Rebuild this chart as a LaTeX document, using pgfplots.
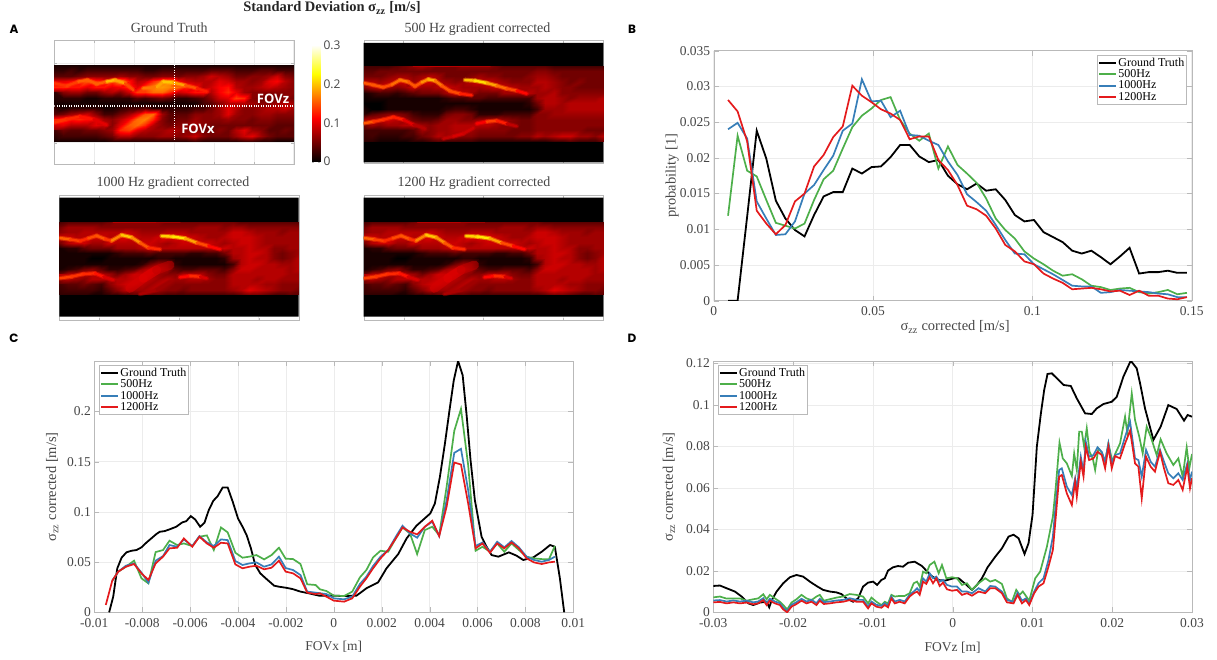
\documentclass[border=0pt]{standalone}
\usepackage{fontspec}
\usepackage{pgfplots}
\usepackage{pgfplotstable}
\pgfplotsset{compat=1.18}
\setmainfont{Liberation Serif}
\newfontfamily\sansf{Open Sans}
\newfontfamily\labf{Poppins}
\definecolor{cGT}{RGB}{0,0,0}
\definecolor{c500}{RGB}{77,175,74}
\definecolor{c1000}{RGB}{55,126,184}
\definecolor{c1200}{RGB}{228,26,28}
\definecolor{frameg}{RGB}{185,185,185}
\definecolor{gridg}{RGB}{236,236,236}
\definecolor{txtg}{RGB}{70,70,70}
\pgfplotsset{
  colormap={hotm}{rgb255(0cm)=(0,0,0); rgb255(3cm)=(255,0,0); rgb255(6cm)=(255,255,0); rgb255(8cm)=(255,255,255)},
  lineaxis/.style={scale only axis, scaled ticks=false, axis line style={frameg}, tick style={frameg}, major tick length=5pt,
    tick align=inside, grid=major, grid style={gridg, line width=0.5pt},
    tick label style={font=\fontsize{13.5}{13.5}\selectfont, text=txtg},
    label style={font=\fontsize{14.5}{14.5}\selectfont, text=txtg},
    xticklabel style={yshift=-2.5pt},
    legend cell align=left,
    legend image post style={line width=2pt},
    legend style={font=\fontsize{12}{12}\selectfont, draw=frameg, inner sep=1pt, row sep=-0.4pt, text=black,
       nodes={inner sep=1.2pt}}},
  imgaxis/.style={scale only axis, axis line style={frameg}, tick style={frameg}, major tick length=2.5pt,
    tick align=inside, xmin=0, xmax=29, y dir=reverse, xticklabels={}, yticklabels={}, grid=major,
    grid style={gridg, line width=0.5pt}, colormap name=hotm, point meta min=0, point meta max=30,
    title style={font=\fontsize{14}{14}\selectfont, text=txtg}},
  heat/.style={surf, shader=interp, mesh/cols=30, point meta=explicit},
  ridge/.style={mesh, point meta=explicit, line width=2.4pt, line cap=round, line join=round},
  ridgeU/.style={mesh, point meta=explicit, line width=4.5pt, line cap=round, line join=round, opacity=0.45},
  srcGT/.style={line width=1.8pt, color=cGT},
  src500/.style={line width=1.7pt, color=c500},
  src1000/.style={line width=1.7pt, color=c1000},
  src1200/.style={line width=1.7pt, color=c1200}
}
\newcommand{\ridgepair}[1]{%
  \addplot[ridgeU] table[x=c,y=r,meta=m]{#1};
  \addplot[ridge] table[x=c,y=r,meta=m]{#1};}
% standard deviation maps, values in 0.01 m/s, 30 columns, 15 rows
\pgfplotstableread[row sep=crcr,header=false]{
1\\1\\1\\1\\1\\1\\1\\1\\1\\1\\1\\1\\1\\1\\1\\1\\1\\1\\1\\1\\1\\1\\1\\1\\1\\1\\1\\1\\1\\1\\
2\\2\\3\\2\\3\\3\\3\\3\\3\\3\\3\\2\\2\\3\\3\\3\\3\\3\\3\\4\\4\\4\\3\\3\\3\\4\\4\\3\\3\\3\\
4\\4\\4\\5\\6\\6\\6\\6\\7\\6\\6\\5\\5\\6\\6\\5\\6\\6\\7\\9\\8\\7\\5\\5\\6\\6\\7\\9\\6\\5\\
10\\10\\11\\12\\15\\13\\11\\14\\17\\12\\8\\9\\13\\16\\17\\11\\9\\8\\8\\8\\10\\9\\7\\7\\6\\7\\10\\11\\8\\6\\
13\\13\\12\\12\\10\\12\\12\\10\\11\\13\\10\\14\\17\\18\\17\\16\\13\\11\\8\\9\\11\\12\\8\\7\\7\\8\\9\\8\\7\\6\\
5\\6\\7\\7\\5\\5\\7\\8\\6\\9\\14\\14\\16\\16\\13\\9\\10\\12\\12\\8\\11\\13\\10\\7\\6\\6\\6\\6\\6\\6\\
2\\2\\2\\2\\1\\1\\2\\2\\2\\2\\4\\3\\4\\5\\4\\2\\2\\3\\4\\6\\9\\10\\14\\13\\6\\5\\5\\5\\6\\5\\
1\\1\\1\\1\\1\\1\\1\\1\\1\\1\\1\\1\\1\\1\\1\\1\\1\\1\\3\\4\\6\\8\\8\\8\\7\\6\\6\\7\\8\\7\\
1\\1\\2\\2\\2\\2\\1\\1\\2\\3\\3\\4\\2\\2\\2\\2\\2\\3\\3\\5\\7\\10\\8\\6\\6\\7\\8\\8\\9\\7\\
4\\5\\7\\8\\9\\6\\3\\3\\5\\7\\10\\15\\16\\7\\4\\4\\4\\6\\6\\6\\7\\10\\7\\6\\6\\7\\7\\6\\6\\6\\
12\\13\\12\\13\\12\\10\\7\\6\\8\\11\\16\\17\\13\\6\\4\\5\\5\\7\\6\\6\\6\\7\\6\\6\\5\\6\\6\\5\\5\\5\\
13\\10\\8\\8\\8\\10\\9\\6\\10\\15\\16\\13\\8\\6\\5\\6\\6\\7\\6\\5\\5\\5\\5\\5\\5\\5\\5\\4\\4\\4\\
6\\5\\4\\4\\5\\5\\6\\7\\13\\14\\10\\8\\7\\7\\8\\7\\6\\6\\5\\5\\6\\5\\8\\10\\7\\6\\4\\4\\5\\4\\
3\\3\\3\\3\\3\\3\\4\\5\\8\\8\\6\\6\\6\\7\\7\\6\\7\\9\\6\\5\\5\\5\\7\\9\\10\\7\\5\\4\\4\\4\\
1\\1\\1\\1\\1\\1\\1\\2\\2\\2\\2\\2\\2\\2\\2\\2\\2\\3\\2\\2\\2\\2\\2\\3\\3\\2\\2\\1\\1\\1\\
}\matGT
\pgfplotstableread[row sep=crcr,header=false]{
3\\3\\3\\3\\4\\5\\6\\7\\6\\5\\5\\5\\6\\6\\6\\6\\5\\4\\4\\4\\4\\4\\4\\3\\3\\3\\3\\3\\3\\3\\
4\\4\\5\\5\\5\\5\\5\\5\\5\\5\\5\\5\\5\\5\\5\\5\\5\\5\\5\\5\\5\\6\\6\\5\\5\\5\\5\\5\\5\\5\\
5\\5\\5\\6\\7\\7\\6\\7\\8\\7\\5\\5\\5\\6\\7\\6\\6\\5\\5\\5\\6\\7\\7\\6\\5\\5\\5\\5\\5\\5\\
8\\8\\7\\8\\9\\9\\7\\9\\9\\8\\7\\6\\7\\8\\9\\9\\8\\7\\6\\6\\6\\8\\8\\7\\6\\5\\6\\5\\5\\5\\
6\\8\\9\\7\\6\\7\\9\\7\\7\\8\\9\\8\\7\\7\\7\\8\\9\\9\\8\\7\\7\\7\\8\\7\\6\\6\\5\\5\\5\\5\\
1\\2\\3\\3\\2\\3\\4\\5\\5\\5\\7\\9\\8\\7\\5\\5\\5\\7\\7\\7\\8\\7\\7\\8\\6\\6\\6\\6\\6\\6\\
1\\1\\1\\1\\1\\1\\1\\1\\1\\1\\2\\3\\3\\4\\4\\3\\3\\3\\3\\3\\3\\7\\8\\8\\7\\6\\7\\7\\7\\8\\
0\\0\\0\\1\\1\\1\\1\\1\\1\\1\\1\\1\\1\\1\\1\\1\\1\\1\\1\\1\\2\\5\\8\\8\\7\\8\\8\\8\\8\\8\\
0\\0\\0\\1\\1\\1\\1\\1\\1\\1\\2\\3\\3\\2\\1\\1\\1\\1\\1\\1\\1\\3\\7\\7\\7\\8\\8\\8\\8\\8\\
2\\4\\5\\6\\6\\5\\3\\2\\2\\2\\5\\6\\6\\5\\2\\2\\2\\3\\3\\3\\3\\6\\6\\7\\7\\7\\7\\7\\7\\7\\
8\\8\\8\\9\\8\\7\\5\\4\\4\\5\\7\\7\\6\\6\\7\\8\\8\\7\\6\\5\\5\\6\\6\\6\\6\\6\\6\\6\\6\\6\\
7\\7\\6\\7\\7\\8\\8\\7\\6\\7\\7\\8\\8\\8\\8\\8\\7\\6\\6\\5\\5\\6\\6\\6\\6\\6\\6\\6\\6\\6\\
3\\3\\3\\3\\3\\3\\4\\7\\6\\7\\7\\8\\8\\7\\6\\6\\6\\6\\5\\5\\5\\6\\6\\6\\6\\6\\6\\5\\5\\5\\
3\\3\\2\\2\\2\\3\\3\\5\\6\\8\\7\\7\\6\\6\\5\\5\\5\\5\\5\\6\\6\\8\\7\\8\\9\\9\\7\\7\\6\\8\\
2\\2\\1\\1\\1\\1\\2\\2\\3\\4\\3\\3\\3\\3\\2\\2\\2\\2\\2\\2\\2\\2\\2\\3\\3\\4\\3\\3\\3\\5\\
}\matFive
\pgfplotstableread[row sep=crcr,header=false]{
3\\4\\4\\4\\4\\4\\5\\6\\6\\6\\6\\6\\6\\5\\5\\5\\5\\5\\5\\5\\5\\5\\4\\4\\4\\4\\4\\4\\4\\4\\
5\\7\\7\\7\\7\\6\\6\\6\\6\\6\\6\\6\\6\\6\\6\\6\\6\\7\\7\\7\\6\\7\\7\\6\\6\\6\\6\\6\\6\\6\\
6\\7\\7\\8\\8\\8\\8\\8\\9\\8\\7\\7\\7\\8\\8\\8\\7\\7\\7\\7\\7\\9\\9\\8\\7\\7\\7\\6\\7\\7\\
9\\9\\8\\8\\9\\9\\8\\9\\10\\9\\8\\8\\9\\10\\10\\10\\9\\8\\7\\7\\8\\9\\9\\9\\8\\7\\7\\7\\7\\7\\
5\\8\\9\\9\\7\\7\\9\\8\\8\\8\\9\\9\\8\\7\\8\\9\\9\\9\\9\\8\\7\\8\\9\\9\\8\\7\\7\\7\\7\\7\\
1\\2\\2\\4\\5\\5\\5\\7\\7\\7\\8\\9\\8\\8\\8\\8\\8\\8\\8\\8\\9\\8\\8\\9\\8\\8\\6\\6\\7\\7\\
1\\1\\1\\1\\1\\1\\1\\2\\3\\3\\3\\4\\3\\3\\3\\3\\2\\2\\3\\3\\5\\8\\8\\9\\9\\8\\6\\5\\6\\7\\
1\\1\\1\\1\\0\\0\\1\\1\\1\\1\\1\\1\\2\\2\\1\\1\\1\\1\\1\\1\\2\\7\\8\\9\\8\\8\\6\\5\\6\\8\\
1\\1\\1\\1\\1\\1\\1\\1\\1\\1\\2\\5\\7\\6\\2\\1\\1\\1\\1\\1\\1\\3\\8\\9\\9\\8\\8\\7\\7\\8\\
1\\2\\3\\5\\6\\4\\2\\2\\3\\4\\7\\9\\9\\7\\4\\3\\3\\4\\4\\4\\3\\6\\9\\9\\8\\8\\8\\8\\7\\8\\
5\\8\\8\\8\\8\\8\\7\\5\\7\\9\\9\\9\\7\\6\\6\\8\\8\\8\\6\\5\\5\\8\\8\\8\\8\\8\\8\\8\\7\\7\\
8\\8\\7\\6\\8\\8\\8\\8\\8\\9\\9\\8\\7\\8\\7\\7\\8\\8\\7\\6\\6\\8\\8\\8\\7\\8\\8\\7\\7\\7\\
4\\4\\4\\5\\4\\3\\6\\8\\9\\9\\8\\7\\8\\7\\6\\6\\6\\6\\6\\6\\6\\8\\8\\8\\8\\7\\7\\6\\6\\6\\
3\\3\\3\\3\\3\\2\\4\\6\\8\\7\\7\\8\\7\\6\\6\\5\\6\\6\\6\\6\\6\\7\\8\\10\\9\\8\\7\\6\\6\\5\\
2\\2\\2\\2\\1\\1\\2\\2\\3\\4\\5\\4\\4\\3\\3\\3\\3\\3\\3\\3\\3\\3\\4\\5\\5\\4\\3\\3\\4\\4\\
}\matThou
% ridges of the bright shear layers: column, row, value in 0.01 m/s
\pgfplotstableread{
c r m
0 3.37 13
1.49 3.87 14
2.91 3.07 14
4 2.76 17
5.13 3.5 14
6.34 3.07 17
7.35 2.76 22
8.56 3.37 15
9.57 4.6 14
}\rGTa
\pgfplotstableread{
c r m
10.78 4.29 15
12.4 4.11 18
13.21 3.07 19
14.42 3.25 21
15.83 3.74 16
17.25 4.29 14
18.46 4.91 11
}\rGTb
\pgfplotstableread{
c r m
0 10.61 14
1.49 10 13
3.11 9.51 13
4.73 10 11
6.34 11.04 9
}\rGTc
\pgfplotstableread{
c r m
0 3.21 15
1.17 3.58 15
2.38 4.01 15
3.39 3.52 14
4.4 2.65 18
5.4 3.02 15
6.21 3.83 15
7.02 3.09 15
7.82 2.53 20
8.63 2.78 18
9.44 3.7 15
10.44 4.69 15
11.65 5.19 14
13.06 5.49 11
}\rFa
\pgfplotstableread{
c r m
12.26 2.65 17
13.47 2.78 22
14.88 3.21 20
16.09 3.7 17
17.3 4.26 15
18.51 4.63 14
19.72 5.19 9
}\rFb
\pgfplotstableread{
c r m
0 10.68 15
1.17 10.37 15
2.38 10 12
3.59 9.51 14
4.8 10 11
6.01 10.93 9
7.42 11.67 7
}\rFc
\pgfplotstableread{
c r m
13.67 10.74 9
14.88 10.37 13
16.09 10.19 15
17.3 10.74 10
18.51 11.23 7
}\rFd
\pgfplotstableread{
c r m
9.64 13.52 7
10.85 13.09 10
12.06 12.59 9
13.27 11.54 9
}\rFe
\pgfplotstableread{
c r m
6.01 .12 7
8.02 .12 9
10.44 .12 8
12.86 .12 8
15.28 .12 7
}\rFf
\pgfplotstableread{
c r m
0 3.12 16
1.29 3.38 15
2.5 3.69 13
3.51 3.18 13
4.52 2.68 16
5.53 3.31 14
6.34 3.63 13
7.55 2.55 21
8.76 2.99 19
9.77 4.01 16
10.78 4.97 14
12.2 5.29 12
}\rTa
\pgfplotstableread{
c r m
12.4 2.74 19
13.81 2.87 22
15.23 3.18 21
16.64 4.01 16
18.05 4.65 13
19.47 5.29 10
}\rTb
\pgfplotstableread{
c r m
0 10.83 14
1.49 10.51 14
2.91 10 13
4.32 9.87 13
5.33 10.51 11
6.54 11.15 8
}\rTc
\pgfplotstableread{
c r m
14.62 10.64 9
15.83 10.38 14
17.04 10.51 12
17.85 10.83 7
}\rTd
\pgfplotstableread{
c r m
8.56 12.74 9
10.18 10.83 10
11.79 9.24 10
13.41 8.28 7
}\rTe
\pgfplotstableread{
c r m
9.77 13.82 8
11.79 13.06 7
13.41 11.46 7
}\rTf
\pgfplotstableread{
c r m
6.54 .1 7
9.37 .1 9
11.79 .1 7
14.62 .1 7
}\rTg
% panel B
\pgfplotstableread{
x gt g b r
.0045 0 .0119 .024 .0281
.0075 0 .0231 .0249 .0265
.0105 .0118 .0182 .0227 .0223
.0135 .0238 .0174 .0139 .0126
.0165 .0199 .0141 .0115 .0108
.0195 .014 .0109 .0092 .0093
.0225 .0115 .0105 .0093 .0106
.0255 .0099 .0101 .0111 .0139
.0285 .009 .0108 .015 .015
.0315 .012 .0141 .0162 .0188
.0345 .0146 .017 .0183 .0204
.0375 .0152 .0182 .0203 .0229
.0405 .0152 .0213 .0238 .0244
.0435 .0185 .0243 .0248 .0301
.0465 .0178 .0259 .031 .0287
.0495 .0187 .0269 .0279 .0278
.0525 .0188 .0281 .028 .0268
.0555 .0201 .0285 .0257 .0262
.0585 .0218 .0253 .0266 .0253
.0615 .0218 .0234 .0232 .0226
.0645 .0202 .0224 .0231 .023
.0675 .0194 .0234 .0224 .023
.0705 .0197 .0185 .0218 .0197
.0735 .0175 .0216 .0195 .0183
.0765 .0163 .019 .0176 .0162
.0795 .0156 .0178 .0149 .0133
.0825 .0164 .0165 .0138 .0128
.0855 .0154 .0143 .0126 .0119
.0885 .0156 .0115 .0106 .0101
.0915 .0141 .0099 .0085 .0078
.0945 .012 .0087 .0066 .0069
.0975 .0111 .0069 .0065 .0055
.1005 .0113 .0059 .0051 .0051
.1035 .0096 .0051 .0044 .0038
.1065 .0089 .0042 .0037 .0031
.1095 .0082 .0035 .0029 .0025
.1125 .007 .0037 .0021 .0016
.1155 .0066 .003 .002 .0017
.1185 .007 .0021 .002 .0018
.1215 .0061 .0019 .0011 .0016
.1245 .0051 .0015 .0012 .0013
.1275 .0062 .0017 .0015 .0014
.1305 .0074 .0018 .0014 .0008
.1335 .0038 .0012 .0013 .0014
.1365 .004 .001 .0012 .0007
.1395 .004 .0012 .001 .0007
.1425 .0042 .0015 .0009 .0003
.1455 .0039 .0009 .0005 .0002
.1485 .0039 .0011 .0005 .0005
}\tabB
% panel C coloured series
\pgfplotstableread{
x g b r
-.00952 nan nan .0073
-.00925 .0315 .0315 .0315
-.009 .0405 .0405 .0405
-.00868 .0454 .0464 .0454
-.00834 .0514 .0487 .0481
-.00803 .0338 .0395 .0388
-.00774 .0288 .0295 .0322
-.00744 .06 .0514 .0487
-.00713 .062 .056 .0554
-.00686 .0713 .067 .0637
-.00654 .067 .0653 .0643
-.00626 .0686 .0726 .0736
-.00591 .066 .066 .0653
-.00561 .0753 .0759 .0753
-.0053 .0766 .0696 .0686
-.00501 .062 .066 .0643
-.00471 .0845 .0726 .0693
-.00443 .0796 .0719 .0686
-.00411 .0593 .0511 .0477
-.00381 .0544 .0471 .0438
-.00353 .0554 .0487 .0454
-.00323 .057 .0497 .0464
-.00291 .0527 .0454 .0428
-.0026 .057 .0477 .0444
-.00229 .0643 .0554 .0514
-.00201 .0534 .0441 .0405
-.0017 .053 .0421 .0388
-.00139 .0481 .0371 .0338
-.00111 .0279 .0206 .0196
-.00076 .0272 .0196 .0182
-.00058 .0229 .019 .0189
-.00031 .0212 .0182 .0156
0 .0166 .0139 .0116
.00043 .0162 .0129 .0106
.00077 .0206 .0156 .0139
.00109 .0348 .0282 .0255
.00136 .0421 .0355 .0338
.00164 .0547 .0461 .0438
.00195 .0613 .0554 .0537
.00227 .0603 .062 .062
.00259 .0736 .0753 .0736
.00287 .0845 .0862 .0845
.00318 .0786 .0786 .0802
.00348 .058 .0743 .0776
.0038 .0819 .0852 .0852
.00411 .0852 .0902 .0912
.0044 .0769 .0759 .0759
.00471 .125 .1117 .1051
.00503 .1807 .1588 .1492
.00531 .2026 .1628 .1472
.00561 .1466 .1217 .1084
.00592 .0613 .066 .0637
.00621 .0653 .0696 .0686
.00652 .0603 .0603 .0593
.00682 .0686 .0703 .0686
.00712 .0603 .0647 .0637
.00742 .0686 .071 .0696
.00773 .062 .0647 .0637
.00805 .0554 .0554 .0537
.00836 .0537 .0521 .0497
.00868 .053 .0504 .0481
.00898 .0527 .0521 .0497
.00923 .066 .0554 .0504
}\tabC
\pgfplotstableread{
x y
-.00938 0
-.00921 .0156
-.00904 .0438
-.00886 .0544
-.00866 .0597
-.00845 .0613
-.00824 .062
-.00803 .0647
-.00783 .0693
-.00762 .0736
-.00741 .0779
-.00727 .0802
-.00706 .0809
-.00686 .0826
-.00658 .0852
-.00633 .0895
-.00616 .0908
-.00597 .0958
-.00579 .0925
-.00558 .0852
-.0054 .0892
-.00522 .1018
-.00503 .1111
-.00485 .1157
-.00464 .1243
-.00443 .1243
-.00422 .1101
-.004 .0935
-.00381 .0852
-.00364 .0769
-.00346 .0637
-.00328 .0471
-.00307 .0388
-.00284 .0338
-.00249 .0265
-.00229 .0255
-.00201 .0245
-.00173 .0232
-.00139 .0206
-.00104 .0189
-.00062 .0166
0 .0166
.00039 .0162
.00095 .0166
.00136 .0239
.00185 .0298
.0022 .0438
.00269 .058
.00304 .0736
.00345 .0862
.00403 .0985
.00422 .1084
.00443 .1349
.00464 .1681
.00485 .2046
.00501 .2311
.00519 .2503
.00538 .2361
.00554 .1979
.00571 .1515
.00589 .1117
.00617 .0753
.00638 .0653
.00659 .057
.00687 .0554
.00731 .0597
.00763 .0564
.00791 .0521
.00833 .0547
.00868 .0603
.00903 .067
.00923 .0653
.00944 .0338
.00962 0
}\tabCgt
% panel D
\pgfplotstableread{
x y
-.03 .0127
-.02917 .0129
-.02833 .0116
-.02729 .01
-.02645 .0076
-.02562 .0043
-.02499 .0035
-.02416 .0047
-.02332 .0051
-.02299 .0024
-.0227 .0056
-.02207 .01
-.02124 .014
-.0204 .0169
-.01957 .018
-.01874 .0172
-.0179 .0148
-.01707 .0127
-.01623 .0108
-.0154 .01
-.01456 .0096
-.01394 .0088
-.01331 .0067
-.01248 .0051
-.01185 .0067
-.01123 .0124
-.0106 .0143
-.00997 .0148
-.00947 .0132
-.00893 .0156
-.00851 .0164
-.0081 .0201
-.00747 .0217
-.00685 .0223
-.00622 .022
-.00559 .0239
-.00476 .0244
-.00384 .0223
-.0028 .018
-.00196 .0156
-.00092 .0153
.00013 .0164
.00075 .0164
.00159 .0137
.00242 .0108
.00305 .0132
.00367 .0164
.00438 .0217
.00534 .0268
.00617 .0308
.00701 .0365
.00763 .0374
.00826 .0357
.00901 .0281
.00951 .0333
.01001 .0469
.01055 .0798
.01106 .0959
.01147 .1071
.01189 .1149
.01243 .1152
.01327 .112
.01389 .1096
.01481 .1091
.01556 .1031
.0166 .0959
.01744 .0956
.01806 .0983
.0189 .1004
.01994 .1015
.02057 .1039
.0214 .1136
.02232 .1213
.02307 .1176
.02349 .1104
.02411 .0983
.02516 .0831
.02607 .0895
.02703 .0999
.02808 .098
.029 .0924
.02945 .0951
.03 .0943
}\tabDgt
\pgfplotstableread{
x y
-.03 .0072
-.02917 .0076
-.02833 .0066
-.0275 .0067
-.02666 .0067
-.02583 .0056
-.02499 .0063
-.02437 .0067
-.02374 .0087
-.02332 .0063
-.02291 .0084
-.02228 .0067
-.02166 .0051
-.02124 .0035
-.02074 .0014
-.0202 .0047
-.01957 .0063
-.01894 .0084
-.01832 .0067
-.01769 .0059
-.01707 .0076
-.01665 .0084
-.01615 .0056
-.0154 .0063
-.01456 .0071
-.01373 .0076
-.0129 .0088
-.01206 .0084
-.01123 .0076
-.0106 .0043
-.01018 .0071
-.00956 .0051
-.00893 .0035
-.00851 .0051
-.0081 .0043
-.00768 .0084
-.00726 .0076
-.00664 .0079
-.00601 .0079
-.00539 .0092
-.00488 .014
-.00446 .0148
-.00413 .0124
-.00371 .0196
-.0033 .0188
-.00288 .0228
-.00229 .0244
-.00175 .0188
-.00134 .0228
-.00079 .0164
-.00008 .0169
.00054 .0164
.00117 .0132
.00179 .014
.00242 .0108
.00325 .014
.00409 .0164
.00471 .0148
.00534 .0156
.00617 .0137
.0068 .0067
.00743 .0051
.00797 .0108
.00839 .0084
.0088 .01
.0096 .0056
.01035 .0164
.01097 .0196
.01181 .0316
.01256 .0461
.01293 .0606
.01339 .0818
.0138 .0742
.01431 .0718
.01494 .0657
.01523 .0766
.01556 .0686
.01586 .0871
.01619 .0871
.01648 .0798
.01681 .0887
.01715 .0774
.01756 .0742
.01786 .0686
.01827 .079
.01869 .0769
.01911 .0726
.01952 .0814
.02002 .0726
.02036 .0763
.02098 .0814
.02161 .0943
.0219 .0863
.02245 .1055
.02286 .0927
.02341 .0843
.02382 .0766
.02432 .0895
.02482 .0847
.02557 .0758
.02607 .0834
.02682 .0766
.02766 .071
.02829 .0742
.02883 .0654
.02933 .0795
.02966 .0694
.03 .0763
}\tabDg
\pgfplotstableread{
x b r
-.03 .0057 .0048
-.02917 .0059 .005
-.02833 .0052 .0043
-.0275 .0057 .0048
-.02666 .0052 .0043
-.02583 .0056 .0047
-.02499 .0048 .0039
-.02437 .0052 .0043
-.02374 .0068 .0059
-.02332 .0044 .0035
-.02291 .0065 .0056
-.02228 .0052 .0043
-.02166 .0044 .0035
-.02124 .0023 .0014
-.02074 .0006 0
-.0202 .0036 .0027
-.01957 .0049 .004
-.01894 .0065 .0056
-.01832 .0052 .0043
-.01769 .006 .0051
-.01707 .0044 .0035
-.01665 .0065 .0056
-.01615 .0049 .004
-.0154 .0052 .0043
-.01456 .0057 .0048
-.01373 .006 .0051
-.0129 .0068 .0059
-.01206 .006 .0051
-.01123 .006 .0051
-.0106 .0028 .0019
-.01018 .0052 .0043
-.00956 .0036 .0027
-.00893 .0031 .0022
-.00851 .0044 .0035
-.0081 .0033 .0024
-.00768 .0076 .0067
-.00726 .0052 .0043
-.00664 .006 .0051
-.00601 .0052 .0043
-.00539 .0085 .0076
-.00488 .01 .0092
-.00446 .0116 .01
-.00413 .01 .0084
-.00371 .0164 .0148
-.0033 .0148 .0137
-.00288 .0188 .0169
-.00246 .0164 .014
-.00204 .0172 .0164
-.00163 .0148 .0127
-.00121 .0156 .0143
-.00071 .0132 .0111
-.00008 .0124 .0104
.00054 .0124 .0108
.00117 .01 .0084
.00179 .01 .0092
.00242 .0092 .008
.00325 .0116 .01
.00409 .01 .0092
.00471 .0127 .0116
.00534 .0124 .0116
.00617 .01 .0092
.0068 .0059 .0048
.00763 .0051 .0043
.00814 .0095 .0084
.00868 .0056 .0043
.00918 .0067 .0059
.0096 .0043 .0035
.01022 .01 .0092
.01076 .014 .0124
.01139 .0164 .014
.01201 .0252 .022
.01256 .0365 .03
.01293 .0525 .0461
.01335 .0686 .0654
.01368 .0694 .0662
.01431 .0606 .0573
.01494 .0565 .0517
.01535 .0646 .063
.01556 .0598 .0557
.01606 .0751 .0726
.0164 .0678 .0654
.01669 .0822 .0798
.0171 .075 .0734
.01765 .0758 .0742
.01815 .0795 .0774
.01869 .0774 .0758
.01911 .0726 .0694
.01952 .0814 .0798
.01994 .0718 .0694
.02036 .0758 .0753
.02098 .0766 .0742
.02161 .0846 .0814
.02224 .0918 .0876
.02286 .0742 .0718
.02328 .0734 .0702
.0237 .0654 .0549
.02424 .0783 .075
.02482 .0726 .0702
.02536 .0702 .0678
.02599 .0783 .0774
.02649 .0726 .0694
.02703 .067 .0622
.02766 .0646 .0614
.02829 .067 .0638
.02883 .0638 .059
.02941 .0718 .0702
.02975 .0638 .0598
.03 .0678 .0646
}\tabDbr
\begin{document}
\begin{tikzpicture}[x=1pt,y=1pt]
\path[use as bounding box] (0,0) rectangle (1217,659);
\node[font=\fontsize{14.5}{14.5}\selectfont\bfseries, text=black!85] at (332,651) {Standard Deviation σ\textsubscript{zz} [m/s]};
\foreach \lab/\px/\py in {A/14/630,B/632/630,C/14/321,D/632/321}{
  \node[font=\fontsize{12}{12}\selectfont\labf\bfseries] at (\px,\py) {\lab};
}
% Ground truth map
\begin{axis}[imgaxis, at={(54.3pt,494.7pt)}, anchor=south west, width=239.4pt, height=123.6pt,
  ymin=-4.47, ymax=18.29, xtick={0,4.85,9.7,14.55,19.4,24.25,29}, ytick={-0.3,14.3},
  title={Ground Truth}, title style={at={(0.48,1)},yshift=-1.5pt}]
\addplot[heat] table[x index=0, y index=0, x expr={mod(\coordindex,30)}, y expr={floor(\coordindex/30)}, meta index=0]{\matGT};
\ridgepair{\rGTa}
\ridgepair{\rGTb}
\ridgepair{\rGTc}
\addplot[white, line width=1.1pt, dash pattern=on 1.1pt off 1.3pt] coordinates {(0,7.55)(29,7.55)};
\addplot[white, line width=1.1pt, dash pattern=on 1.1pt off 1.3pt] coordinates {(14.54,0)(14.54,14)};
\node[font=\fontsize{13}{13}\selectfont\sansf\bfseries, text=white] at (axis cs:26.5,6.2) {FOVz};
\node[font=\fontsize{13}{13}\selectfont\sansf\bfseries, text=white] at (axis cs:17.4,11.73) {FOVx};
\end{axis}
% colour bar
\begin{axis}[scale only axis, at={(312pt,497.3pt)}, anchor=south west, width=8pt, height=116.7pt,
  xmin=0, xmax=1, ymin=0, ymax=30, xtick=\empty, ytick={0,10,20,30}, yticklabels={0,0.1,0.2,0.3},
  yticklabel pos=right, axis line style={frameg}, tick style={frameg}, major tick length=2pt, tick align=inside,
  tick label style={font=\fontsize{12}{12}\selectfont\sansf, text=txtg},
  colormap name=hotm, point meta min=0, point meta max=30]
\addplot[surf, shader=interp, mesh/cols=2, point meta=explicit] table[x=x, y=y, meta=m]{
x y m
0 0 0
1 0 0
0 7.5 7.5
1 7.5 7.5
0 15 15
1 15 15
0 22.5 22.5
1 22.5 22.5
0 30 30
1 30 30
};
\end{axis}
% 500 Hz map
\begin{axis}[imgaxis, at={(363.7pt,496pt)}, anchor=south west, width=239.6pt, height=122.7pt,
  ymin=-4.69, ymax=18.02, xtick={4.8,14.48,24.1}, ytick=\empty,
  title={500 Hz gradient corrected}, title style={at={(0.475,1)},yshift=-5pt}]
\addplot[draw=none, fill=black] coordinates {(0,-4.2)(29,-4.2)(29,17.9)(0,17.9)} \closedcycle;
\addplot[heat] table[x index=0, y index=0, x expr={mod(\coordindex,30)}, y expr={floor(\coordindex/30)}, meta index=0]{\matFive};
\ridgepair{\rFa}
\ridgepair{\rFb}
\ridgepair{\rFc}
\ridgepair{\rFd}
\ridgepair{\rFe}
\addplot[ridge, line width=1.4pt] table[x=c,y=r,meta=m]{\rFf};
\end{axis}
% 1000 Hz map
\begin{axis}[imgaxis, at={(59.3pt,339pt)}, anchor=south west, width=239.4pt, height=125pt,
  ymin=-5.1, ymax=18.79, xtick={4.85,14.5,24.15}, ytick=\empty,
  title={1000 Hz gradient corrected}, title style={at={(0.475,1)},yshift=-4.5pt}]
\addplot[draw=none, fill=black] coordinates {(0,-4.59)(29,-4.59)(29,18.15)(0,18.15)} \closedcycle;
\addplot[heat] table[x index=0, y index=0, x expr={mod(\coordindex,30)}, y expr={floor(\coordindex/30)}, meta index=0]{\matThou};
\ridgepair{\rTa}
\ridgepair{\rTb}
\ridgepair{\rTc}
\ridgepair{\rTd}
\addplot[ridge, line width=9pt, opacity=0.55] table[x=c,y=r,meta=m]{\rTe};
\ridgepair{\rTf}
\addplot[ridge, line width=1.4pt] table[x=c,y=r,meta=m]{\rTg};
\end{axis}
% 1200 Hz map
\begin{axis}[imgaxis, at={(363.7pt,339pt)}, anchor=south west, width=239.6pt, height=125pt,
  ymin=-5.1, ymax=18.79, xtick={4.85,14.5,24.15}, ytick=\empty,
  title={1200 Hz gradient corrected}, title style={at={(0.46,1)},yshift=-4.5pt}]
\addplot[draw=none, fill=black] coordinates {(0,-4.59)(29,-4.59)(29,18.15)(0,18.15)} \closedcycle;
\addplot[heat] table[x index=0, y index=0, x expr={mod(\coordindex,30)}, y expr={floor(\coordindex/30)}, meta index=0]{\matThou};
\ridgepair{\rTa}
\ridgepair{\rTb}
\ridgepair{\rTc}
\ridgepair{\rTd}
\addplot[ridge, line width=9pt, opacity=0.55] table[x=c,y=r,meta=m]{\rTe};
\ridgepair{\rTf}
\addplot[ridge, line width=1.4pt] table[x=c,y=r,meta=m]{\rTg};
\end{axis}
% panel B
\begin{axis}[lineaxis, at={(713.7pt,358.3pt)}, anchor=south west, width=478pt, height=250pt,
  xmin=0, xmax=0.15, ymin=0, ymax=0.035,
  xtick={0,0.05,0.1,0.15}, xticklabels={0,0.05,0.1,0.15},
  ytick={0,0.005,0.01,0.015,0.02,0.025,0.03,0.035}, yticklabels={0,0.005,0.01,0.015,0.02,0.025,0.03,0.035},
  xlabel={σ\textsubscript{zz} corrected [m/s]}, ylabel={probability [1]},
  x label style={at={(axis description cs:0.505,-0.105)},anchor=center},
  y label style={at={(axis description cs:-0.087,0.5)},anchor=center},
  legend style={at={(0.9895,0.9816)},anchor=north east}]
\addplot[srcGT] table[x=x,y=gt]{\tabB}; \addlegendentry{Ground Truth}
\addplot[src500] table[x=x,y=g]{\tabB}; \addlegendentry{500Hz}
\addplot[src1000] table[x=x,y=b]{\tabB}; \addlegendentry{1000Hz}
\addplot[src1200] table[x=x,y=r]{\tabB}; \addlegendentry{1200Hz}
\end{axis}
% panel C
\begin{axis}[lineaxis, at={(94.3pt,46.7pt)}, anchor=south west, width=479pt, height=251pt,
  xmin=-0.01, xmax=0.01, ymin=0, ymax=0.25,
  xtick={-0.01,-0.008,-0.006,-0.004,-0.002,0,0.002,0.004,0.006,0.008,0.01},
  xticklabels={-0.01,-0.008,-0.006,-0.004,-0.002,0,0.002,0.004,0.006,0.008,0.01},
  ytick={0,0.05,0.1,0.15,0.2}, yticklabels={0,0.05,0.1,0.15,0.2},
  xlabel={FOVx [m]}, ylabel={σ\textsubscript{zz} corrected [m/s]},
  x label style={at={(axis description cs:0.5,-0.138)},anchor=center,font=\fontsize{13.5}{13.5}\selectfont},
  y label style={at={(axis description cs:-0.088,0.5)},anchor=center},
  legend style={at={(0.0098,0.9835)},anchor=north west}]
\addplot[srcGT] table[x=x,y=y]{\tabCgt}; \addlegendentry{Ground Truth}
\addplot[src500] table[x=x,y=g]{\tabC}; \addlegendentry{500Hz}
\addplot[src1000] table[x=x,y=b]{\tabC}; \addlegendentry{1000Hz}
\addplot[src1200] table[x=x,y=r]{\tabC}; \addlegendentry{1200Hz}
\end{axis}
% panel D
\begin{axis}[lineaxis, at={(713.3pt,46.7pt)}, anchor=south west, width=478.7pt, height=251pt,
  xmin=-0.03, xmax=0.03, ymin=0, ymax=0.121,
  xtick={-0.03,-0.02,-0.01,0,0.01,0.02,0.03}, xticklabels={-0.03,-0.02,-0.01,0,0.01,0.02,0.03},
  ytick={0,0.02,0.04,0.06,0.08,0.1,0.12}, yticklabels={0,0.02,0.04,0.06,0.08,0.1,0.12},
  xlabel={FOVz [m]}, ylabel={σ\textsubscript{zz} corrected [m/s]},
  x label style={at={(axis description cs:0.5,-0.142)},anchor=center,font=\fontsize{13.5}{13.5}\selectfont},
  y label style={at={(axis description cs:-0.0925,0.5)},anchor=center},
  legend style={at={(0.0092,0.9835)},anchor=north west}]
\addplot[srcGT] table[x=x,y=y]{\tabDgt}; \addlegendentry{Ground Truth}
\addplot[src500] table[x=x,y=y]{\tabDg}; \addlegendentry{500Hz}
\addplot[src1000] table[x=x,y=b]{\tabDbr}; \addlegendentry{1000Hz}
\addplot[src1200] table[x=x,y=r]{\tabDbr}; \addlegendentry{1200Hz}
\end{axis}
\end{tikzpicture}
\end{document}
